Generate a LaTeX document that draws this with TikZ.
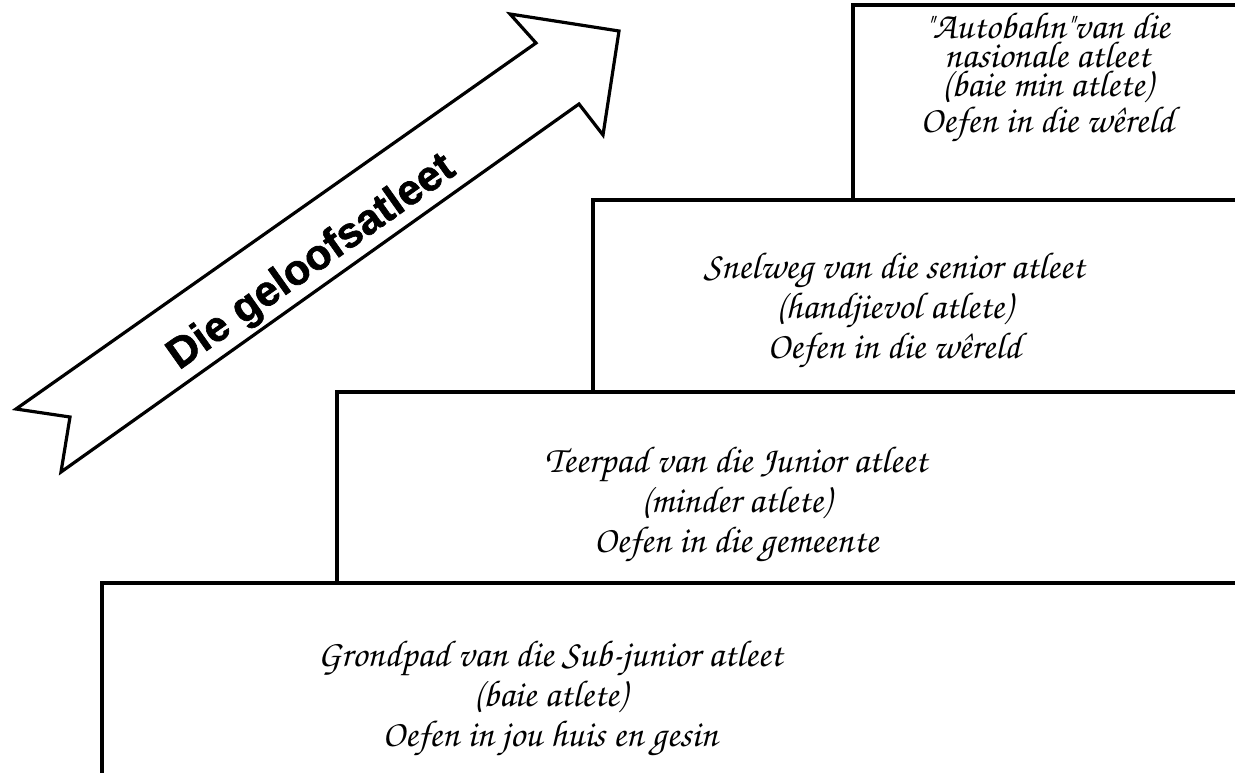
\documentclass[tikz,border=0pt]{standalone}
\usepackage{fontspec}
\usepackage{tikz}
\usetikzlibrary{positioning}
\newfontfamily\arrowfont{Liberation Sans}[BoldFeatures={FakeBold=1.5}]
\newcommand{\chancery}{\fontencoding{T1}\fontfamily{pzc}\fontseries{mb}\fontshape{it}\selectfont}

\begin{document}
\begin{tikzpicture}[
  x=0.5pt, y=-0.5pt,
  level/.style={draw, line width=1.6pt},
  ltext/.style={align=center, font=\chancery\fontsize{18.7}{20}\selectfont},
  toptext/.style={ltext, font=\chancery\fontsize{18.7}{14.4}\selectfont},
  bigarrow/.style={draw, line width=1.6pt, fill=white, line join=miter},
  arrowlbl/.style={rotate=35.3, font=\arrowfont\bfseries\fontsize{21.3}{24}\selectfont}
]
  \useasboundingbox (0,0) rectangle (1235,772);
  \clip (0,0) rectangle (1235,772);

  % levels
  \draw[level] (853,5) rectangle (1260,200);
  \draw[level] (593,200) rectangle (1260,392);
  \draw[level] (337,392) rectangle (1260,583);
  \draw[level] (102,583) rectangle (1260,800);

  % texts
  \node[toptext] (autobahn) at (1047,78) {"Autobahn"van die\\nasionale atleet\\(baie min atlete)\\Oefen in die w\^ereld};
  \node[ltext] (snelweg) at (894,311) {Snelweg van die senior atleet\\(handjievol atlete)\\Oefen in die w\^ereld};
  \node[ltext] (teerpad) at (736,505) {Teerpad van die Junior atleet\\(minder atlete)\\Oefen in die gemeente};
  \node[ltext] (grondpad) at (550,699) {Grondpad van die Sub-junior atleet\\(baie atlete)\\Oefen in jou huis en gesin};

  % arrow
  \draw[bigarrow] (16,409) -- (536,43) -- (510,14) -- (619,31) -- (603,135)
    -- (579,104) -- (61,472) -- (70,417) -- cycle;
  \node[arrowlbl] (geloof) at (312,263) {Die geloofsatleet};
\end{tikzpicture}
\end{document}
